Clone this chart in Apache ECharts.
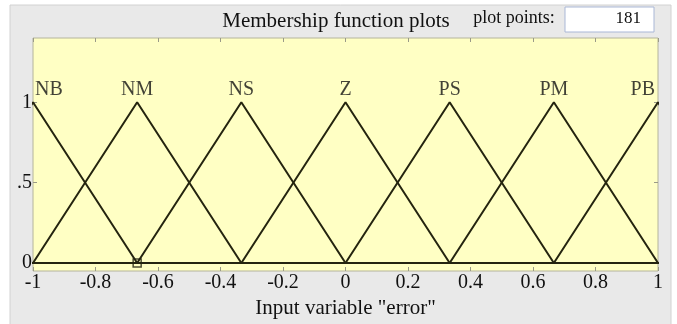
<!DOCTYPE html>
<html>
<head>
<meta charset="utf-8">
<script src="https://cdn.jsdelivr.net/npm/echarts@6/dist/echarts.min.js"></script>
<style>
html,body{margin:0;padding:0;background:#ffffff;}
#c{width:677px;height:324px;}
</style>
</head>
<body>
<div id="c"></div>
<script>
// Membership functions (triangular): left foot, peak, right foot
const mfNames = ['NB', 'NM', 'NS', 'Z', 'PS', 'PM', 'PB'];
const mfLeft  = [-1.3333, -1.0, -0.6667, -0.3333, 0.0, 0.3333, 0.6667];
const mfPeak  = [-1.0, -0.6667, -0.3333, 0.0, 0.3333, 0.6667, 1.0];
const mfRight = [-0.6667, -0.3333, 0.0, 0.3333, 0.6667, 1.0, 1.3333];
const xTicks = [-1, -0.8, -0.6, -0.4, -0.2, 0, 0.2, 0.4, 0.6, 0.8, 1];
const yTicks = [0, 0.5, 1];
const yTickLabels = ['0', '.5', '1'];
const selectedPoint = [[-0.6667, 0]];
const plotPoints = '181';

const xMin = -1, xMax = 1;
const yMin = -0.05, yMax = 1.4;
const font = '"Liberation Serif", "DejaVu Serif", serif';
const lineColor = '#24240f';
const tickColor = '#9a9a88';

const series = mfNames.map((name, i) => ({
  type: 'line', name: name,
  data: [[xMin, 0], [mfLeft[i], 0], [mfPeak[i], 1], [mfRight[i], 0], [xMax, 0]],
  showSymbol: false, symbol: 'none', clip: true, animation: false,
  lineStyle: { color: lineColor, width: 2 }, z: 3
}));
// MF name labels at the peaks
series.push({
  type: 'scatter', symbolSize: 0, animation: false, silent: true, z: 5,
  data: mfNames.map((name, i) => ({
    value: [mfPeak[i], 1],
    label: {
      show: true, formatter: name, position: 'top', distance: 3,
      color: '#111', fontFamily: font, fontSize: 20,
      align: i === 0 ? 'left' : (i === mfNames.length - 1 ? 'right' : 'center'),
      offset: i === 0 ? [2, 0] : (i === mfNames.length - 1 ? [-3, 0] : [0, 0])
    }
  }))
});
series.push({
  type: 'scatter', data: selectedPoint, symbol: 'rect', symbolSize: 8,
  itemStyle: { color: 'rgba(0,0,0,0)', borderColor: lineColor, borderWidth: 1.5 },
  animation: false, z: 4
});

const chart = echarts.init(document.getElementById('c'), null, { renderer: 'canvas' });
chart.setOption({
  animation: false,
  graphic: [
    { type: 'rect', shape: { x: 10, y: 5, width: 661, height: 330 },
      style: { fill: '#e9e9e9', stroke: '#d2d2d2', lineWidth: 1 }, z: -10 },
    { type: 'text', x: 336, y: 21,
      style: { text: 'Membership function plots', font: '21px ' + font, fill: '#111',
        textAlign: 'center', textVerticalAlign: 'middle' } },
    { type: 'text', x: 514, y: 18,
      style: { text: 'plot points:', font: '18px ' + font, fill: '#111',
        textAlign: 'center', textVerticalAlign: 'middle' } },
    { type: 'rect', shape: { x: 565, y: 7, width: 89, height: 25 },
      style: { fill: '#ffffff', stroke: '#a9b7d6', lineWidth: 1 } },
    { type: 'text', x: 641, y: 19,
      style: { text: plotPoints, font: '17px ' + font, fill: '#111',
        textAlign: 'right', textVerticalAlign: 'middle' } }
  ],
  grid: {
    left: 33, top: 38, width: 625, height: 235, show: true,
    backgroundColor: '#ffffc4', borderColor: '#b4b49c', borderWidth: 1
  },
  xAxis: [{
    type: 'value', min: xMin, max: xMax, interval: 0.2, position: 'bottom',
    name: 'Input variable "error"', nameLocation: 'middle', nameGap: 27,
    nameTextStyle: { fontFamily: font, fontSize: 21, color: '#111' },
    axisLine: { show: false, onZero: false },
    axisTick: { show: true, inside: true, length: 4, lineStyle: { color: tickColor } },
    splitLine: { show: false },
    axisLabel: { fontFamily: font, fontSize: 20, color: '#111', margin: 2,
      customValues: xTicks,
      formatter: v => String(Math.round(v * 10) / 10) }
  }, {
    type: 'value', min: xMin, max: xMax, interval: 0.2, position: 'top',
    axisLine: { show: false, onZero: false },
    axisTick: { show: true, inside: true, length: 4, lineStyle: { color: tickColor } },
    splitLine: { show: false }, axisLabel: { show: false }
  }],
  yAxis: [{
    type: 'value', min: yMin, max: yMax, position: 'left',
    axisLine: { show: false, onZero: false },
    axisTick: { show: true, inside: true, length: 4, customValues: yTicks, lineStyle: { color: tickColor } },
    splitLine: { show: false },
    axisLabel: { fontFamily: font, fontSize: 20, color: '#111', margin: 1,
      customValues: yTicks,
      formatter: v => yTickLabels[yTicks.indexOf(v)] }
  }, {
    type: 'value', min: yMin, max: yMax, position: 'right',
    axisLine: { show: false, onZero: false },
    axisTick: { show: true, inside: true, length: 4, customValues: yTicks, lineStyle: { color: tickColor } },
    splitLine: { show: false }, axisLabel: { show: false }
  }],
  series: series
});
</script>
</body>
</html>
